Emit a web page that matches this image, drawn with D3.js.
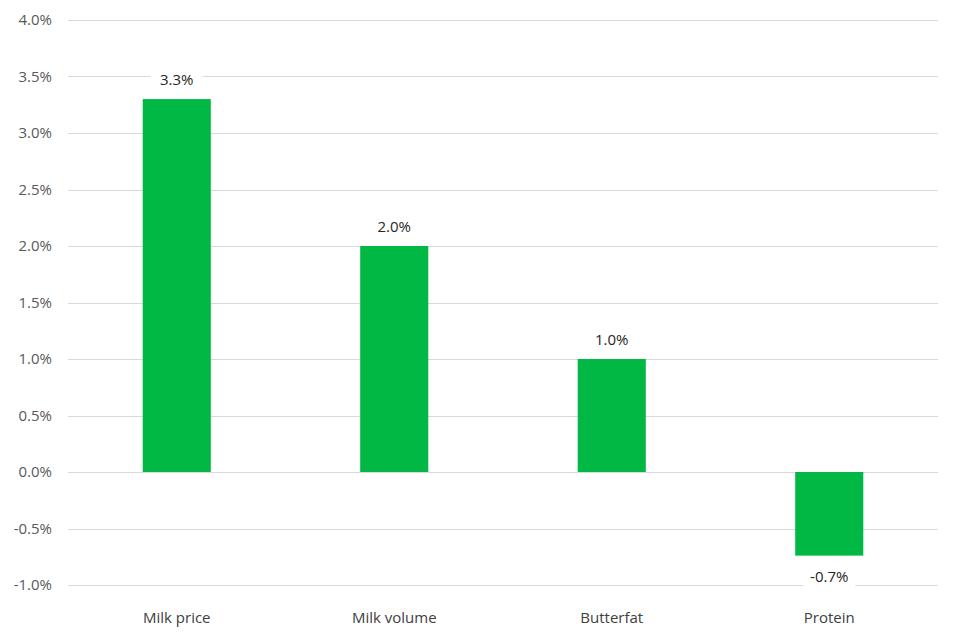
<!DOCTYPE html>
<html><head><meta charset="utf-8">
<script src="https://cdn.jsdelivr.net/npm/d3@7"></script>
<style>body{margin:0;background:#fff}svg{display:block}</style>
</head><body>
<script>
const categories = ["Milk price", "Milk volume", "Butterfat", "Protein"];
const values = [3.3, 2.0, 1.0, -0.74];
const valueLabels = ["3.3%", "2.0%", "1.0%", "-0.7%"];
const yTicks = [-1.0, -0.5, 0.0, 0.5, 1.0, 1.5, 2.0, 2.5, 3.0, 3.5, 4.0];

const W = 960, H = 640;
const m = {left: 68, right: 22, top: 20, bottom: 55};
const svg = d3.select("body").append("svg").attr("width", W).attr("height", H);
const font = "'Open Sans', 'Noto Sans', sans-serif";

const x = d3.scaleBand().domain(categories).range([m.left, W - m.right]).paddingInner(0.687).paddingOuter(0.3435);
const y = d3.scaleLinear().domain([-1, 4]).range([H - m.bottom, m.top]);

// gridlines
svg.append("g").selectAll("line").data(yTicks).join("line")
  .attr("x1", m.left).attr("x2", W - m.right)
  .attr("y1", d => Math.round(y(d)) + 0.5).attr("y2", d => Math.round(y(d)) + 0.5)
  .attr("stroke", "#d9d9d9").attr("stroke-width", 1);

// y axis labels
const yAxis = d3.axisLeft(y).tickValues(yTicks).tickFormat(d => d.toFixed(1) + "%").tickSize(0).tickPadding(0);
const gy = svg.append("g").attr("transform", `translate(${m.left - 16},0)`).call(yAxis);
gy.select(".domain").remove();
gy.selectAll("text").attr("fill", "#595959").style("font-family", font).style("font-size", "15px");

// bars
svg.append("g").selectAll("rect").data(values).join("rect")
  .attr("x", (d, i) => x(categories[i]))
  .attr("width", x.bandwidth())
  .attr("y", d => y(Math.max(0, d)))
  .attr("height", d => Math.abs(y(d) - y(0)))
  .attr("fill", "#00b843");

// data labels
const lab = svg.append("g").selectAll("g").data(values).join("g")
  .attr("transform", (d, i) => `translate(${x(categories[i]) + x.bandwidth() / 2},${d >= 0 ? y(d) - 19 : y(d) + 21})`);
lab.append("rect").attr("x", -26).attr("y", -10).attr("width", 52).attr("height", 20).attr("fill", "#fff");
lab.append("text").text((d, i) => valueLabels[i])
  .attr("text-anchor", "middle").attr("dy", "0.35em")
  .attr("fill", "#262626").style("font-family", font).style("font-size", "15px");

// x axis labels
const xAxis = d3.axisBottom(x).tickSize(0).tickPadding(0);
const gx = svg.append("g").attr("transform", `translate(0,${H - m.bottom + 33})`).call(xAxis);
gx.select(".domain").remove();
gx.selectAll("text").attr("fill", "#404040").attr("dy", "0.35em").style("font-family", font).style("font-size", "15px");
</script>
</body></html>
